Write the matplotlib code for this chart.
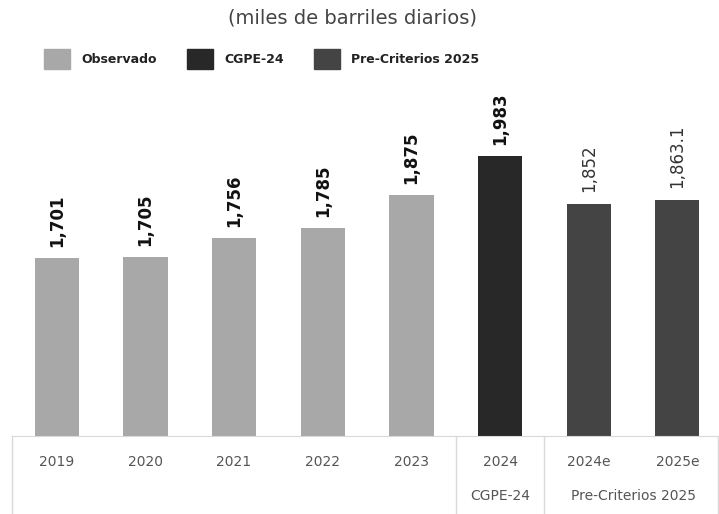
import matplotlib.pyplot as plt
from matplotlib.patches import Patch

# datos (miles de barriles diarios)
categorias = ["2019", "2020", "2021", "2022", "2023", "2024", "2024e", "2025e"]
valores = [1701, 1705, 1756, 1785, 1875, 1983, 1852, 1863.1]
etiquetas = ["1,701", "1,705", "1,756", "1,785", "1,875", "1,983", "1,852", "1,863.1"]
grupos = ["Observado"] * 5 + ["CGPE-24"] + ["Pre-Criterios 2025"] * 2

colores = {"Observado": "#a8a8a8", "CGPE-24": "#282828", "Pre-Criterios 2025": "#444444"}

fig = plt.figure(figsize=(7.19, 5.14), dpi=100)
ax = fig.add_axes([0.0, 0.152, 1.0, 0.673])

x = list(range(len(categorias)))
ax.bar(x, valores, width=0.5, color=[colores[g] for g in grupos])

# etiquetas de valor, verticales
for i, (v, t, g) in enumerate(zip(valores, etiquetas, grupos)):
    negrita = g != "Pre-Criterios 2025"
    ax.annotate(t, (i, v), xytext=(0, 8), textcoords="offset points",
                rotation=90, ha="center", va="bottom", fontsize=12,
                fontweight="bold" if negrita else "normal",
                color="#111111" if negrita else "#333333")

ax.set_xlim(-0.64, 7.47)
ax.set_ylim(1210, 2166)
for s in ["top", "right", "left"]:
    ax.spines[s].set_visible(False)
ax.spines["bottom"].set_color("#d9d9d9")
ax.spines["bottom"].set_bounds(-0.5, 7.47)
ax.set_yticks([])
ax.set_xticks(x)
ax.set_xticklabels(categorias, fontsize=10, color="#555555")
ax.tick_params(axis="x", length=0, pad=14)

# lineas de la tabla del eje
for sep in [-0.5, 4.5, 5.5, 7.46]:
    ax.plot([sep, sep], [0, -0.25], transform=ax.get_xaxis_transform(),
            color="#d9d9d9", lw=1, clip_on=False)

# nombres de grupo
ax.text(5, -0.175, "CGPE-24", transform=ax.get_xaxis_transform(),
        ha="center", va="center", fontsize=10, color="#555555")
ax.text(6.5, -0.175, "Pre-Criterios 2025", transform=ax.get_xaxis_transform(),
        ha="center", va="center", fontsize=10, color="#555555")

fig.text(0.49, 0.965, "(miles de barriles diarios)", ha="center", va="center",
         fontsize=14, color="#444444")

handles = [Patch(color=colores[g], label=g) for g in ["Observado", "CGPE-24", "Pre-Criterios 2025"]]
leg = fig.legend(handles=handles, loc="center left", bbox_to_anchor=(0.045, 0.885), ncol=3,
                 frameon=False, handlelength=2.1, handleheight=2.1, columnspacing=2.4,
                 handletextpad=0.9, prop={"weight": "bold", "size": 9})
for t in leg.get_texts():
    t.set_color("#222222")

plt.savefig("out.png", dpi=100)
